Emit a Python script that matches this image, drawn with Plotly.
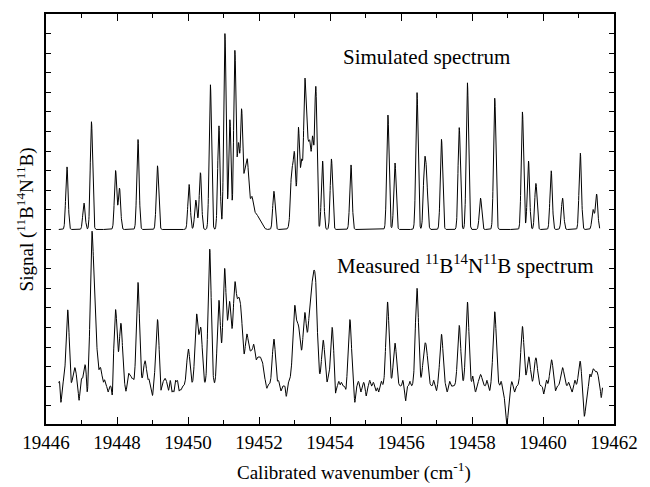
import numpy as np
import plotly.graph_objects as go

# ---------------- data ----------------
# Simulated spectrum: line positions (cm^-1) and peak heights (arb. units)
sim_pos = [19446.59, 19447.07, 19447.28, 19447.96, 19448.07, 19448.59, 19449.14,
           19450.03, 19450.22, 19450.35, 19450.63, 19450.87, 19451.04, 19451.18,
           19451.32, 19451.42, 19451.51, 19451.60, 19451.67, 19451.73, 19451.80,
           19452.42, 19452.92, 19453.00, 19453.11, 19453.20, 19453.29, 19453.36,
           19453.43, 19453.51, 19453.60, 19453.79, 19454.04, 19454.59, 19455.63,
           19455.83, 19456.45, 19456.66, 19456.72, 19457.14, 19457.64, 19457.87,
           19458.24, 19458.64, 19459.42, 19459.59, 19459.80, 19460.23, 19460.55,
           19461.05, 19461.41, 19461.51]
sim_amp = [3.2, 1.35, 5.5, 3.0, 2.1, 4.6, 3.25,
           2.3, 1.5, 2.9, 7.4, 5.3, 10.0, 5.6,
           9.1, 4.2, 6.0, 2.6, 3.1, 1.2, 1.2,
           1.95, 2.0, 3.1, 5.1, 3.3, 7.2, 3.9,
           3.9, 4.4, 7.2, 3.5, 3.6, 3.3, 5.85,
           3.4, 7.0, 3.1, 2.4, 4.6, 5.2, 7.5,
           1.6, 6.7, 6.0, 3.5, 2.35, 3.0, 1.6,
           3.9, 1.0, 1.8]
# broad tail components of the simulated band heads
sim_tail_pos = [19451.87, 19451.97, 19452.07, 19452.95]
sim_tail_amp = [0.7, 0.45, 0.2, 1.0]

# Measured spectrum: line positions and heights
meas_pos = [19446.61, 19446.81, 19447.10, 19447.29, 19447.38, 19447.53, 19447.96,
            19448.11, 19448.37, 19448.59, 19448.79, 19449.14, 19449.35, 19450.01,
            19450.24, 19450.36, 19450.61, 19450.87, 19451.03, 19451.17, 19451.32,
            19451.42, 19451.50, 19451.65, 19452.05, 19452.42, 19453.00, 19453.11,
            19453.29, 19453.43, 19453.52, 19453.60, 19453.81, 19454.06, 19454.56,
            19455.62, 19455.83, 19456.45, 19456.65, 19456.72, 19457.14, 19457.64,
            19457.87, 19458.24, 19458.64, 19458.98, 19459.42, 19459.60, 19459.80,
            19460.24, 19460.55, 19461.05, 19461.16, 19461.41, 19461.52]
meas_amp = [3.9, 0.95, 1.1, 7.4, 3.3, 0.95, 3.9,
            3.2, 0.6, 5.3, 1.3, 3.4, 0.4, 1.9,
            3.6, 2.9, 7.0, 4.3, 5.4, 3.1, 4.2,
            3.2, 2.8, 1.6, 0.5, 2.4, 3.0, 1.6,
            2.5, 2.1, 3.4, 3.8, 2.3, 3.0, 3.4,
            4.3, 2.2, 5.0, 1.5, 1.5, 2.65, 3.1,
            4.3, 0.6, 3.8, -1.95, 3.05, 1.5, 1.45,
            1.35, 0.95, 1.35, -1.6, 0.85, 0.7]
# broad underlying components of the measured band heads
meas_broad_pos = [19451.20, 19451.78, 19451.98, 19453.10, 19453.45]
meas_broad_amp = [1.2, 1.5, 0.8, 1.3, 1.4]

# small baseline wiggles in the measured trace
ripple_pos = [19446.38, 19446.42, 19446.50, 19446.70, 19446.93, 19447.00, 19447.16,
              19447.45, 19447.65, 19447.75, 19447.87, 19448.25, 19448.32, 19448.45,
              19448.90, 19449.00, 19449.23, 19449.45, 19449.50, 19449.55, 19449.60,
              19449.65, 19449.70, 19449.75, 19449.80, 19451.85, 19451.92, 19452.10,
              19452.22, 19452.55, 19452.62, 19452.77, 19453.95, 19454.15, 19454.25,
              19454.32, 19454.45, 19454.70, 19454.80, 19454.87, 19454.95, 19455.02,
              19455.12, 19455.22, 19455.30, 19455.37, 19455.45, 19456.05, 19456.13,
              19456.25, 19456.92, 19457.00, 19457.30, 19457.37, 19458.02, 19458.10,
              19458.42, 19458.50, 19458.82, 19459.12, 19459.20, 19460.02, 19460.10,
              19460.35, 19460.72, 19460.82, 19460.90, 19461.32, 19461.64]
ripple_amp = [0.3, -0.85, 0.2, -0.25, -0.75, 0.3, -0.85,
              0.4, 0.3, -0.3, -0.9, -0.3, 0.3, 0.25,
              0.3, -0.5, -0.6, -0.25, 0.3, -0.3, -0.3,
              0.3, 0.3, -0.25, -0.2, 0.3, -0.3, 0.3,
              -0.3, 0.25, -0.25, -0.6, 0.3, -0.7, 0.25,
              0.2, -0.3, -0.85, 0.25, -0.3, 0.2, -0.5,
              0.3, 0.2, -0.25, -0.3, 0.25, 0.3, -0.75,
              0.25, 0.3, -0.25, -0.3, 0.25, 0.5, -0.3,
              0.3, -0.25, 0.25, 0.25, -0.3, -0.4, 0.3,
              -0.3, 0.2, -0.3, 0.3, 0.5, -0.6]

sim_offset = 8.0
x_ticks = [19446, 19448, 19450, 19452, 19454, 19456, 19458, 19460, 19462]

# ---------------- build traces ----------------
def lines(grid, pos, amp, width):
    y = np.zeros_like(grid)
    for p, a in zip(pos, amp):
        y += a * np.exp(-0.5 * ((grid - p) / width) ** 2)
    return y

g_sim = np.arange(19446.36, 19461.60, 0.004)
y_sim = (lines(g_sim, sim_pos, sim_amp, 0.033)
         + lines(g_sim, sim_tail_pos, sim_tail_amp, 0.06) + sim_offset)

g_meas = np.arange(19446.36, 19461.68, 0.004)
y_meas = (lines(g_meas, meas_pos, meas_amp, 0.045)
          + lines(g_meas, meas_broad_pos, meas_broad_amp, 0.14)
          + lines(g_meas, ripple_pos, ripple_amp, 0.018))

fig = go.Figure()
fig.add_trace(go.Scatter(x=g_sim, y=y_sim, mode="lines",
                         line=dict(color="black", width=1), showlegend=False))
fig.add_trace(go.Scatter(x=g_meas, y=y_meas, mode="lines",
                         line=dict(color="black", width=1), showlegend=False))

font = "Liberation Serif, Times New Roman, serif"
fig.update_layout(
    width=650, height=487,
    margin=dict(l=46, r=25, t=12, b=63),
    paper_bgcolor="white", plot_bgcolor="white",
    font=dict(family=font, size=19, color="black"),
    xaxis=dict(range=[19446, 19462], tickvals=x_ticks,
               ticktext=[str(v) for v in x_ticks],
               ticks="inside", ticklen=7, tickwidth=1.3, tickcolor="black",
               minor=dict(dtick=1, tick0=19446, ticks="inside", ticklen=4,
                          tickwidth=1.2, tickcolor="black"),
               showline=True, linecolor="black", linewidth=1.6, mirror="ticks",
               showgrid=False, zeroline=False,
               tickfont=dict(family=font, size=19, color="black")),
    yaxis=dict(range=[-1.93, 19.0], tickmode="linear", tick0=0, dtick=1,
               ticks="inside", ticklen=5, tickwidth=1.2, tickcolor="black",
               showticklabels=False,
               showline=True, linecolor="black", linewidth=1.6, mirror="ticks",
               showgrid=False, zeroline=False),
    annotations=[
        dict(text="Simulated spectrum", xref="paper", yref="paper",
             x=(347 - 46) / 579, y=(424 - 55) / 412, xanchor="left", yanchor="middle",
             showarrow=False, font=dict(family=font, size=21, color="black")),
        dict(text="Measured <sup>11</sup>B<sup>14</sup>N<sup>11</sup>B spectrum",
             xref="paper", yref="paper",
             x=(341 - 46) / 579, y=(424 - 264) / 412, xanchor="left", yanchor="middle",
             showarrow=False, font=dict(family=font, size=21, color="black")),
        dict(text="Calibrated wavenumber (cm<sup>-1</sup>)", xref="paper", yref="paper",
             x=(360 - 46) / 579, y=(424 - 472) / 412, xanchor="center", yanchor="middle",
             showarrow=False, font=dict(family=font, size=19, color="black")),
        dict(text="Signal (<sup>11</sup>B<sup>14</sup>N<sup>11</sup>B)", xref="paper",
             yref="paper", x=(25 - 46) / 579, y=(424 - 218) / 412,
             xanchor="center", yanchor="middle", textangle=-90,
             showarrow=False, font=dict(family=font, size=19, color="black")),
    ],
)

fig.write_html("out.html", config={"displayModeBar": False},
               post_script="document.body.style.margin='0px';document.body.style.padding='0px';")
